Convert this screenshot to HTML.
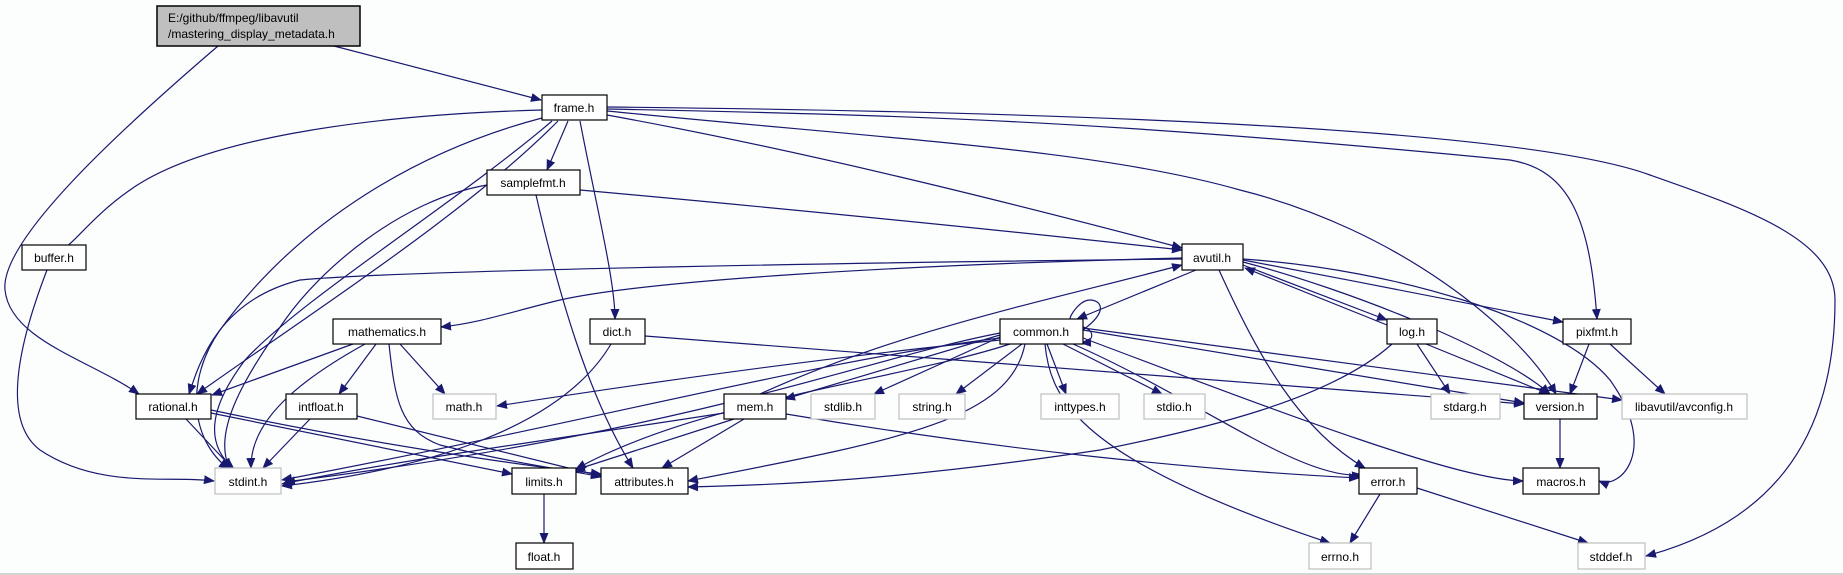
<!DOCTYPE html>
<html><head><meta charset="utf-8"><style>
html,body{margin:0;padding:0;background:#fcfefd;}
svg{display:block;}
text{font-family:"Liberation Sans",sans-serif;font-size:12px;fill:#000;}
</style></head><body>
<svg width="1843" height="575" viewBox="0 0 1843 575" xmlns="http://www.w3.org/2000/svg">
<defs>
<marker id="a" markerWidth="11" markerHeight="9" refX="10" refY="4.5" orient="auto" markerUnits="userSpaceOnUse">
<path d="M0,0 L11,4.5 L0,9 Z" fill="#191970"/></marker>
</defs>
<rect width="1843" height="575" fill="#fcfefd"/>
<line x1="0" y1="574" x2="1843" y2="574" stroke="#aaa" stroke-width="1"/>
<g fill="none" stroke="#191970" stroke-width="1.2" marker-end="url(#a)">
<!-- main -->
<path d="M334,46 L541,100"/>
<path d="M218,46 C120,130 0,240 5,290 C10,340 90,360 139,394"/>
<!-- frame -->
<path d="M542,110 C360,115 200,140 130,190 C80,225 65,260 57,245"/>
<path d="M542,118 C420,150 300,220 220,330 C185,380 190,440 229,469"/>
<path d="M552,121 C460,200 300,300 245,360 C215,400 200,440 234,469"/>
<path d="M558,121 C470,210 330,300 197,394"/>
<path d="M568,121 L547,170"/>
<path d="M580,121 C595,200 615,280 615,319"/>
<path d="M607,115 C800,150 1000,200 1182,248"/>
<path d="M607,111 C900,140 1100,150 1240,190 C1400,230 1520,330 1556,394"/>
<path d="M607,109 C900,115 1100,120 1510,160 C1570,170 1590,220 1597,319"/>
<path d="M607,107 C900,110 1500,120 1650,175 C1750,210 1835,240 1835,300 C1835,430 1780,520 1646,556"/>
<!-- buffer -->
<path d="M47,270 C20,340 0,420 40,450 C100,490 170,475 214,481"/>
<!-- samplefmt -->
<path d="M487,185 C400,200 320,270 285,320 C250,370 210,430 230,469"/>
<path d="M536,195 C560,300 590,400 633,468"/>
<path d="M580,190 C800,210 1000,230 1182,250"/>
<!-- avutil -->
<path d="M1182,258 C900,265 650,280 560,300 C510,312 480,323 441,327"/>
<path d="M1182,259 C900,262 400,270 300,280 C220,300 200,360 189,394"/>
<path d="M1196,270 L1077,319"/>
<path d="M1219,270 C1260,360 1300,430 1365,468"/>
<path d="M1243,265 L1387,320"/>
<path d="M1243,260 C1350,280 1450,300 1563,322"/>
<path d="M1243,262 C1350,290 1500,350 1550,394"/>
<path d="M1243,259 C1400,270 1560,320 1610,380 C1660,450 1620,490 1599,481"/>
<path d="M1387,325 L1245,268"/>
<path d="M760,394 C900,330 1050,300 1182,265"/>
<!-- common -->
<path d="M1083,330 C1110,310 1100,300 1090,300 C1080,300 1070,315 1070,319" marker-end="none"/>
<path d="M1083,327 C1095,330 1095,342 1081,343"/>
<path d="M1000,335 L785,399"/>
<path d="M1000,337 L874,394"/>
<path d="M1022,344 L956,394"/>
<path d="M1047,344 L1066,394"/>
<path d="M1063,344 L1162,394"/>
<path d="M1045,344 C1050,400 1080,460 1330,543"/>
<path d="M1083,338 C1300,420 1460,480 1523,481"/>
<path d="M1083,330 L1524,403"/>
<path d="M1083,328 L1622,400"/>
<path d="M1073,344 C1200,400 1300,480 1362,475"/>
<path d="M1000,338 C820,360 600,420 282,480"/>
<path d="M1000,333 C860,360 700,430 285,482"/>
<path d="M1010,344 C900,380 700,400 576,469"/>
<path d="M1025,344 C1010,420 900,440 688,481"/>
<path d="M1000,340 C800,360 600,390 497,406"/>
<!-- log -->
<path d="M1417,344 L1450,394"/>
<path d="M1426,344 L1549,394"/>
<path d="M1392,344 C1330,400 1200,430 1100,450 C900,480 780,485 688,487"/>
<!-- pixfmt -->
<path d="M1589,344 L1570,394"/>
<path d="M1610,344 L1665,394"/>
<!-- dict -->
<path d="M645,336 L1524,404"/>
<path d="M611,344 C560,430 420,470 282,486"/>
<!-- mathematics -->
<path d="M353,344 L212,395"/>
<path d="M365,344 C300,380 250,420 251,468"/>
<path d="M376,344 L339,394"/>
<path d="M400,344 L445,394"/>
<path d="M389,344 C395,400 400,430 440,445 C520,465 570,470 601,477"/>
<!-- rational -->
<path d="M186,419 L232,468"/>
<path d="M211,413 L512,474"/>
<path d="M211,410 C400,450 560,470 601,474"/>
<!-- intfloat -->
<path d="M310,419 L263,468"/>
<path d="M357,416 L601,476"/>
<!-- mem -->
<path d="M724,413 C550,440 400,460 282,484"/>
<path d="M734,419 L575,470"/>
<path d="M744,419 L662,468"/>
<path d="M786,414 C1000,450 1200,470 1359,478"/>
<!-- limits, version, error -->
<path d="M544,494 L544,543"/>
<path d="M1560,419 L1560,468"/>
<path d="M1380,494 L1350,543"/>
<path d="M1417,488 L1588,543"/>
</g>
<g stroke-width="1.5">
<rect x="157" y="6" width="203" height="40" fill="#bfbfbf" stroke="#000"/>
<text x="168" y="22">E:/github/ffmpeg/libavutil</text>
<text x="168" y="38">/mastering_display_metadata.h</text>
</g>
<g fill="#fff" stroke="#000" stroke-width="1.2">
<rect x="542" y="95" width="65" height="25"/>
<rect x="487" y="170" width="93" height="25"/>
<rect x="22" y="245" width="64" height="25"/>
<rect x="1182" y="244" width="61" height="26"/>
<rect x="333" y="319" width="108" height="25"/>
<rect x="590" y="319" width="55" height="25"/>
<rect x="1000" y="319" width="83" height="25"/>
<rect x="1387" y="319" width="50" height="25"/>
<rect x="1563" y="319" width="68" height="25"/>
<rect x="136" y="394" width="75" height="25"/>
<rect x="286" y="394" width="71" height="25"/>
<rect x="724" y="394" width="62" height="25"/>
<rect x="1524" y="394" width="73" height="25"/>
<rect x="512" y="468" width="64" height="26"/>
<rect x="601" y="468" width="87" height="26"/>
<rect x="1359" y="468" width="58" height="26"/>
<rect x="1523" y="468" width="76" height="26"/>
<rect x="516" y="543" width="57" height="26"/>
</g>
<g fill="#fff" stroke="#bfbfbf" stroke-width="1.2">
<rect x="433" y="394" width="63" height="25"/>
<rect x="811" y="394" width="64" height="25"/>
<rect x="899" y="394" width="66" height="25"/>
<rect x="1041" y="394" width="78" height="25"/>
<rect x="1144" y="394" width="61" height="25"/>
<rect x="1431" y="394" width="69" height="25"/>
<rect x="1622" y="394" width="125" height="25"/>
<rect x="215" y="468" width="66" height="26"/>
<rect x="1309" y="543" width="62" height="26"/>
<rect x="1578" y="543" width="67" height="26"/>
</g>
<g text-anchor="middle">
<text x="574" y="112">frame.h</text>
<text x="533" y="187">samplefmt.h</text>
<text x="54" y="262">buffer.h</text>
<text x="1212" y="262">avutil.h</text>
<text x="387" y="336">mathematics.h</text>
<text x="617" y="336">dict.h</text>
<text x="1041" y="336">common.h</text>
<text x="1412" y="336">log.h</text>
<text x="1597" y="336">pixfmt.h</text>
<text x="173" y="411">rational.h</text>
<text x="321" y="411">intfloat.h</text>
<text x="464" y="411" fill="#555">math.h</text>
<text x="755" y="411">mem.h</text>
<text x="843" y="411">stdlib.h</text>
<text x="932" y="411">string.h</text>
<text x="1080" y="411">inttypes.h</text>
<text x="1174" y="411">stdio.h</text>
<text x="1465" y="411">stdarg.h</text>
<text x="1560" y="411">version.h</text>
<text x="1684" y="411">libavutil/avconfig.h</text>
<text x="248" y="486">stdint.h</text>
<text x="544" y="486">limits.h</text>
<text x="644" y="486">attributes.h</text>
<text x="1388" y="486">error.h</text>
<text x="1561" y="486">macros.h</text>
<text x="544" y="561">float.h</text>
<text x="1340" y="561">errno.h</text>
<text x="1611" y="561">stddef.h</text>
</g>
</svg>
</body></html>
